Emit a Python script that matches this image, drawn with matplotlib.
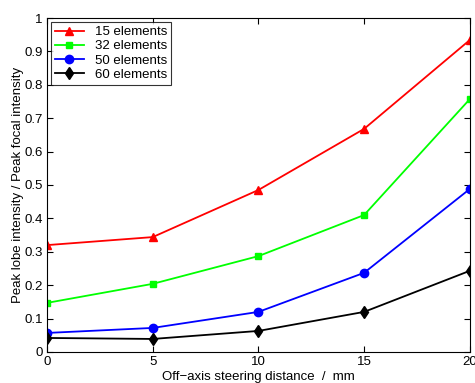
import matplotlib
matplotlib.use("Agg")
import matplotlib.pyplot as plt

plt.rcParams['font.family'] = ['Liberation Sans', 'DejaVu Sans']

x = [0, 5, 10, 15, 20]
labels = ["15 elements", "32 elements", "50 elements", "60 elements"]
y15 = [0.320, 0.344, 0.485, 0.668, 0.934]
y32 = [0.147, 0.204, 0.287, 0.410, 0.757]
y50 = [0.057, 0.072, 0.120, 0.237, 0.488]
y60 = [0.042, 0.039, 0.063, 0.120, 0.243]
series = [y15, y32, y50, y60]
colors = ["#ff0000", "#00ff00", "#0000ff", "#000000"]
markers = ["^", "s", "o", "d"]
msizes = [6, 5, 6, 6.5]

fig = plt.figure(figsize=(4.75, 3.83), dpi=100)
ax = fig.add_axes([0.099, 0.081, 0.890, 0.872])
for ys, c, m, ms, lab in zip(series, colors, markers, msizes, labels):
    ax.plot(x, ys, color=c, marker=m, markersize=ms, linewidth=1.3, label=lab)

ax.set_xlim(0, 20)
ax.set_ylim(0, 1)
ax.set_xticks([0, 5, 10, 15, 20])
ax.set_yticks([0, 0.1, 0.2, 0.3, 0.4, 0.5, 0.6, 0.7, 0.8, 0.9, 1])
ax.set_yticklabels(["0", "0.1", "0.2", "0.3", "0.4", "0.5", "0.6", "0.7", "0.8", "0.9", "1"])
ax.tick_params(direction='in', top=True, right=True, labelsize=9.5, length=4, pad=3)
for s in ax.spines.values():
    s.set_linewidth(0.8)
ax.set_xlabel("Off\u2212axis steering distance  /  mm", fontsize=9.5, labelpad=2)
ax.set_ylabel("Peak lobe intensity / Peak focal intensity", fontsize=9.5, labelpad=0)
leg = ax.legend(loc='upper left', fontsize=9.5, frameon=True, fancybox=False,
                edgecolor='black', borderpad=0.3, labelspacing=0.15, handlelength=2.2,
                borderaxespad=0.3)
leg.get_frame().set_linewidth(0.8)
fig.savefig("out.png", dpi=100)
